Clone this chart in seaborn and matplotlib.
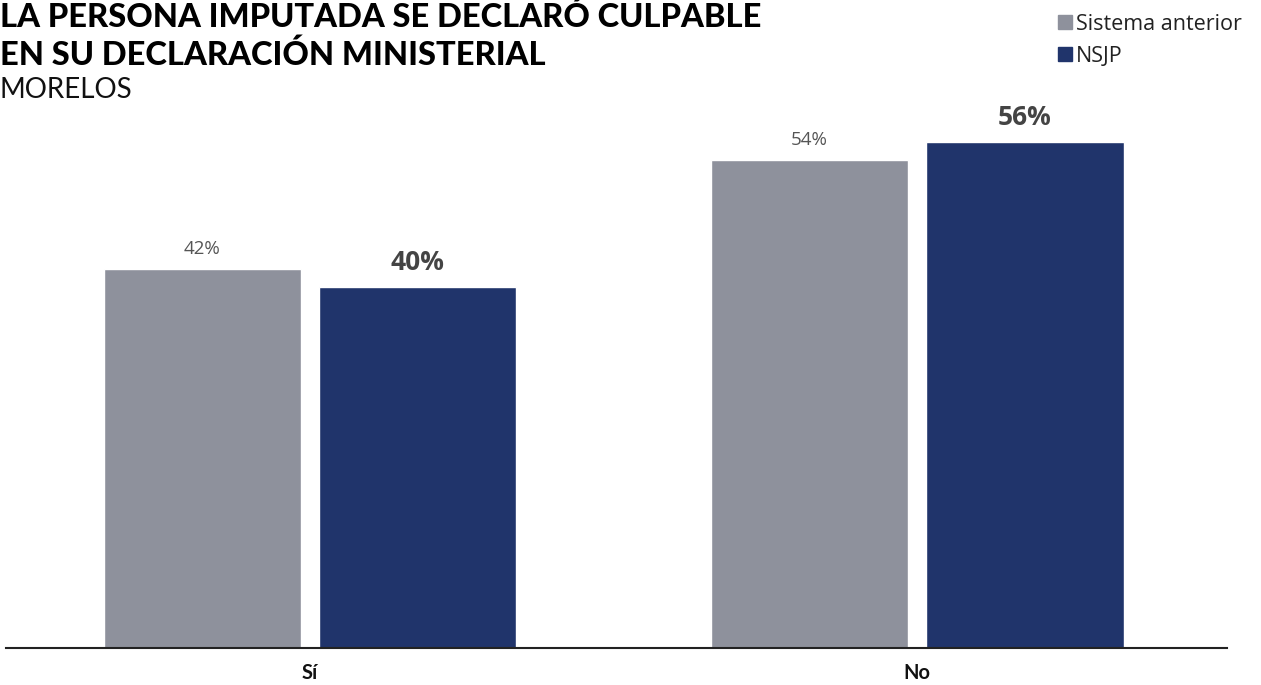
import matplotlib
matplotlib.use('Agg')
import matplotlib.pyplot as plt
import seaborn as sns
import pandas as pd

# Data
categories = ['Sí', 'No']
series = ['Sistema anterior', 'NSJP']
sistema_anterior = [42, 54]
nsjp = [40, 56]
colors = ['#8E919C', '#20346B']

sns.set_theme(style='white')
plt.rcParams['font.family'] = ['Lato', 'DejaVu Sans']

# Long format for seaborn
df = pd.DataFrame({'respuesta': categories * 2,
                   'sistema': [series[0]] * 2 + [series[1]] * 2,
                   'valor': sistema_anterior + nsjp})

fig = plt.figure(figsize=(12.61, 6.85), dpi=100)
ax = fig.add_axes([0.005, 0.054, 0.968, 0.791])

sns.barplot(data=df, x='respuesta', y='valor', hue='sistema', order=categories,
            hue_order=series, palette=colors, width=0.71, gap=0.085,
            saturation=1, legend=False, ax=ax)

ax.set_xlim(-0.5, 1.51)
ax.set_ylim(0, 60)
ax.set_xlabel('')
ax.set_ylabel('')
ax.set_yticks([])
for s in ['top', 'right', 'left']:
    ax.spines[s].set_visible(False)
ax.spines['bottom'].set_color('#222222')
ax.spines['bottom'].set_linewidth(1.5)
ax.tick_params(axis='x', length=0, pad=11)
for lab in ax.get_xticklabels():
    lab.set_fontweight('bold')
    lab.set_fontsize(14.5)
    lab.set_color('#111111')

# value labels
ax.bar_label(ax.containers[0], labels=[f'{v}%' for v in sistema_anterior],
             padding=8, fontsize=13.5, color='#555555', family='Open Sans')
ax.bar_label(ax.containers[1], labels=[f'{v}%' for v in nsjp],
             padding=8, fontsize=19, color='#444444', fontweight='bold',
             family='Open Sans')

# titles
fig.text(0.0, 0.9606, 'LA PERSONA IMPUTADA SE DECLARÓ CULPABLE', ha='left',
         va='baseline', fontsize=23.5, fontweight='black', color='#000000')
fig.text(0.0, 0.9051, 'EN SU DECLARACIÓN MINISTERIAL', ha='left',
         va='baseline', fontsize=23.5, fontweight='black', color='#000000')
fig.text(0.0, 0.857, 'MORELOS', ha='left', va='baseline', fontsize=20, color='#111111')

# legend
for i, (name, c) in enumerate(zip(series, colors)):
    y = 1 - (30 + i * 32) / 685
    fig.patches.append(plt.Rectangle((0.839, y + 0.0015), 0.0111, 0.0204,
                                     transform=fig.transFigure, color=c))
    fig.text(0.853, y, name, ha='left', va='baseline', fontsize=15.5,
             color='#222222', family='Open Sans')

fig.savefig('out.png', dpi=100)
